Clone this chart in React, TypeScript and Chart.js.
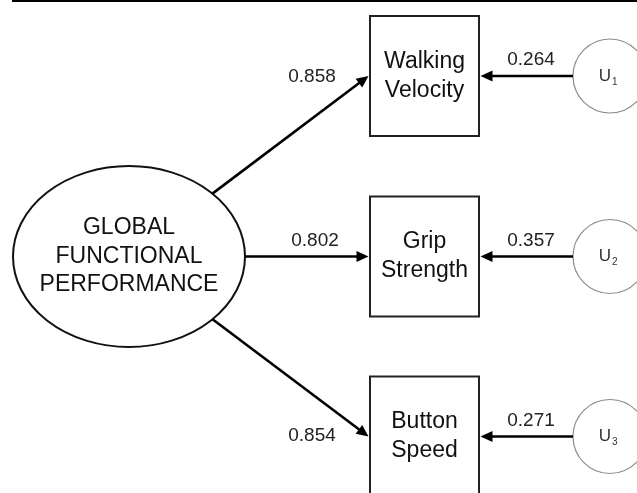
import React, { useEffect, useRef } from "react";
import { Chart, registerables } from "chart.js";

Chart.register(...registerables);

// ---- data ----
const factorLabel = ["GLOBAL", "FUNCTIONAL", "PERFORMANCE"];
const indicators = [
  ["Walking", "Velocity"],
  ["Grip", "Strength"],
  ["Button", "Speed"],
];
const loadings = [0.858, 0.802, 0.854];
const residuals = [0.264, 0.357, 0.271];
const residualNames = ["1", "2", "3"];

// ---- layout (diagram coordinates) ----
const W = 637;
const H = 493;
const factor = { x: 129, y: 256.5, rx: 116, ry: 90.5 };
const rowY = [76, 256.5, 436.5];
const box = { left: 370, width: 109, height: 120 };
const uCircle = { x: 610, r: 37 };
const loadingLabelPos = [
  { x: 312, y: 77 },
  { x: 315, y: 241 },
  { x: 312, y: 436 },
];
const residualLabelDy = -16;
const residualLabelX = 531;

const FONT = "'Liberation Sans', Arial, Helvetica, sans-serif";

function arrow(ctx: CanvasRenderingContext2D, x1: number, y1: number, x2: number, y2: number) {
  const ang = Math.atan2(y2 - y1, x2 - x1);
  const len = 12;
  const hw = 5.5;
  const bx = x2 - len * Math.cos(ang);
  const by = y2 - len * Math.sin(ang);
  ctx.beginPath();
  ctx.moveTo(x1, y1);
  ctx.lineTo(bx + 2 * Math.cos(ang), by + 2 * Math.sin(ang));
  ctx.strokeStyle = "#000";
  ctx.lineWidth = 2.6;
  ctx.stroke();
  ctx.beginPath();
  ctx.moveTo(x2, y2);
  ctx.lineTo(bx - hw * Math.sin(ang), by + hw * Math.cos(ang));
  ctx.lineTo(bx + hw * Math.sin(ang), by - hw * Math.cos(ang));
  ctx.closePath();
  ctx.fillStyle = "#000";
  ctx.fill();
}

const diagramPlugin = {
  id: "pathDiagram",
  afterDatasetsDraw(chart: any) {
    const ctx: CanvasRenderingContext2D = chart.ctx;
    const xs = chart.scales.x;
    const ys = chart.scales.y;
    const px = (v: number) => xs.getPixelForValue(v);
    const py = (v: number) => ys.getPixelForValue(v);
    const sx = (d: number) => Math.abs(px(d) - px(0));
    const sy = (d: number) => Math.abs(py(d) - py(0));

    ctx.save();
    // top rule
    ctx.beginPath();
    ctx.moveTo(px(12), py(1));
    ctx.lineTo(px(W), py(1));
    ctx.strokeStyle = "#000";
    ctx.lineWidth = 2;
    ctx.stroke();

    // factor ellipse
    const fcx = px(factor.x);
    const fcy = py(factor.y);
    const frx = sx(factor.rx);
    const fry = sy(factor.ry);
    ctx.beginPath();
    ctx.ellipse(fcx, fcy, frx, fry, 0, 0, Math.PI * 2);
    ctx.fillStyle = "#fff";
    ctx.fill();
    ctx.strokeStyle = "#111";
    ctx.lineWidth = 2;
    ctx.stroke();
    ctx.fillStyle = "#111";
    ctx.font = `23px ${FONT}`;
    ctx.textAlign = "center";
    ctx.textBaseline = "middle";
    const lh = 28.5;
    factorLabel.forEach((t, i) => {
      ctx.fillText(t, fcx, fcy + (i - 1) * lh);
    });

    indicators.forEach((lines, i) => {
      const cy = py(rowY[i]);
      const bl = px(box.left);
      const bw = sx(box.width);
      const bh = sy(box.height);
      // box
      ctx.beginPath();
      ctx.rect(bl, cy - bh / 2, bw, bh);
      ctx.fillStyle = "#fff";
      ctx.fill();
      ctx.strokeStyle = "#222";
      ctx.lineWidth = 2;
      ctx.stroke();
      ctx.fillStyle = "#111";
      ctx.font = `23px ${FONT}`;
      ctx.textAlign = "center";
      ctx.textBaseline = "middle";
      lines.forEach((t, j) => {
        ctx.fillText(t, bl + bw / 2, cy + (j - 0.5) * 29);
      });

      // loading arrow from ellipse boundary to box
      const tx = bl - 1.5;
      const ty = cy;
      const dx = tx - fcx;
      const dy = ty - fcy;
      const t = 1 / Math.sqrt((dx / frx) ** 2 + (dy / fry) ** 2);
      arrow(ctx, fcx + dx * t, fcy + dy * t, tx, ty);

      // loading label
      ctx.fillStyle = "#222";
      ctx.font = `19px ${FONT}`;
      ctx.textAlign = "center";
      ctx.textBaseline = "middle";
      ctx.fillText(loadings[i].toFixed(3), px(loadingLabelPos[i].x), py(loadingLabelPos[i].y));

      // residual circle
      const ucx = px(uCircle.x);
      const ur = sx(uCircle.r);
      ctx.beginPath();
      ctx.arc(ucx, cy, ur, 0, Math.PI * 2);
      ctx.fillStyle = "#fff";
      ctx.fill();
      ctx.strokeStyle = "#8c8c8c";
      ctx.lineWidth = 1.2;
      ctx.stroke();
      ctx.fillStyle = "#333";
      ctx.font = `17px ${FONT}`;
      ctx.textAlign = "right";
      ctx.textBaseline = "middle";
      ctx.fillText("U", ucx + 1, cy);
      ctx.font = `10px ${FONT}`;
      ctx.textAlign = "left";
      ctx.fillText(residualNames[i], ucx + 2, cy + 6);

      // residual arrow
      arrow(ctx, ucx - ur, cy, bl + bw + 1.5, cy);
      ctx.fillStyle = "#222";
      ctx.font = `19px ${FONT}`;
      ctx.textAlign = "center";
      ctx.textBaseline = "middle";
      ctx.fillText(residuals[i].toFixed(3), px(residualLabelX), py(rowY[i] + residualLabelDy));
    });
    ctx.restore();
  },
};

export default function App() {
  const ref = useRef<HTMLCanvasElement | null>(null);
  useEffect(() => {
    document.body.style.margin = "0";
    const canvas = ref.current;
    if (!canvas) return;
    const chart = new Chart(canvas, {
      type: "scatter",
      data: {
        datasets: [
          {
            label: "indicators",
            data: rowY.map((y) => ({ x: box.left + box.width / 2, y })),
            pointRadius: 0,
          },
        ],
      },
      options: {
        animation: false,
        responsive: false,
        maintainAspectRatio: false,
        events: [],
        layout: { padding: 0 },
        plugins: { legend: { display: false }, tooltip: { enabled: false }, title: { display: false } },
        scales: {
          x: { type: "linear", min: 0, max: W, display: false },
          y: { type: "linear", min: 0, max: H, reverse: true, display: false },
        },
      },
      plugins: [diagramPlugin],
    });
    return () => chart.destroy();
  }, []);
  return (
    <div style={{ position: "fixed", left: 0, top: 0, width: W, height: H, background: "#fff" }}>
      <canvas ref={ref} width={W} height={H} style={{ display: "block", width: W, height: H }} />
    </div>
  );
}
